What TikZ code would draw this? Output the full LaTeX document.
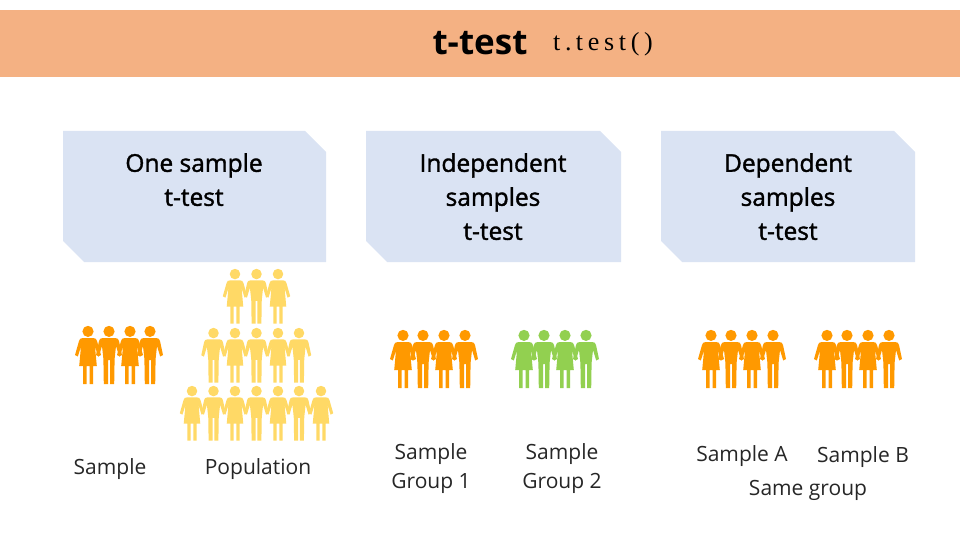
\documentclass[tikz,border=0pt]{standalone}
\usepackage{fontspec}
\setmainfont{Open Sans}
\newfontfamily\serifspaced[LetterSpace=18]{Liberation Serif}
\newcommand{\heavy}[2]{\special{pdf:code q 2 Tr #1 w}#2\special{pdf:code Q}}
\definecolor{band}{HTML}{F4B183}
\definecolor{boxblue}{HTML}{DAE3F3}
\definecolor{orangep}{HTML}{FF9900}
\definecolor{yellowp}{HTML}{FFD966}
\definecolor{greenp}{HTML}{92D050}
\newcommand{\man}[4][1]{%
\begin{scope}[shift={(#2,#3)},scale=#1,fill=#4,draw=none]
\fill (0,5.4) circle (5.6);
\fill (-6,12) -- (6,12) .. controls (8.5,12) and (9.5,13) .. (10,15)
 -- (13,29) -- (10.2,30.5) -- (7,20) -- (5.6,33) -- (5.2,58) -- (1,58) -- (1,34) -- (-1,34) -- (-1,58) -- (-5.2,58) -- (-5.6,33) -- (-7,20) -- (-10.2,30.5) -- (-13,29) -- (-10,15) .. controls (-9.5,13) and (-8.5,12) .. (-6,12) -- cycle;
\end{scope}}
\newcommand{\woman}[4][1]{%
\begin{scope}[shift={(#2,#3)},scale=#1,fill=#4,draw=none]
\fill (0,5.4) circle (5.6);
\fill (-5,12) -- (5,12) .. controls (7.5,12) and (8.5,13) .. (9,15)
 -- (13,29) -- (10.2,30.5) -- (7,20.5) -- (8.8,40) -- (5,40) -- (5,58) -- (1.5,58) -- (1.5,40) -- (-1.5,40) -- (-1.5,58) -- (-5,58) -- (-5,40) -- (-8.8,40) -- (-7,20.5) -- (-10.2,30.5) -- (-13,29) -- (-9,15) .. controls (-8.5,13) and (-7.5,12) .. (-5,12) -- cycle;
\end{scope}}
\tikzset{
 boxshape/.style={fill=boxblue,draw=none},
 boxtext/.style={align=center,font=\fontsize{24.5}{34}\selectfont,text=black,inner sep=0pt,anchor=north},
 lbl/.style={align=center,font=\fontsize{21}{29}\selectfont,text=black!85,inner sep=0pt}
}
\begin{document}
\begin{tikzpicture}[x=1pt,y=-1pt]
\useasboundingbox (0,0) rectangle (960,540);
\fill[band] (0,10) rectangle (960,77);
\node[inner sep=0pt,font=\fontsize{35}{40}\selectfont\bfseries] (title) at (480,43) {t-test};
\node[inner sep=0pt,font=\fontsize{26}{28}\selectfont\serifspaced] (func) at (603,44) {t.\,test()};
\fill[boxshape] (63,131) -- (305,131) -- (326,152) -- (326,262) -- (84,262) -- (63,241) -- cycle;
\fill[boxshape] (366,131) -- (600,131) -- (621,152) -- (621,262) -- (387,262) -- (366,241) -- cycle;
\fill[boxshape] (661,131) -- (894,131) -- (915,152) -- (915,262) -- (682,262) -- (661,241) -- cycle;
\node[boxtext] (one) at (194,153) {\heavy{0.35}{One sample}\\\heavy{0.35}{t-test}};
\node[boxtext] (ind) at (493,153) {\heavy{0.35}{Independent}\\\heavy{0.35}{samples}\\\heavy{0.35}{t-test}};
\node[boxtext] (dep) at (788,153) {\heavy{0.35}{Dependent}\\\heavy{0.35}{samples}\\\heavy{0.35}{t-test}};
% sample
\man{109}{326}{orangep}\man{150}{326}{orangep}\woman{88}{326}{orangep}\woman{130}{326}{orangep}
% population
\def\s{0.94}
\man[\s]{256.5}{269}{yellowp}\woman[\s]{235}{269}{yellowp}\woman[\s]{278}{269}{yellowp}
\man[\s]{213.5}{328}{yellowp}\man[\s]{256.5}{328}{yellowp}\man[\s]{299}{328}{yellowp}\woman[\s]{235}{328}{yellowp}\woman[\s]{278}{328}{yellowp}
\man[\s]{213.5}{386}{yellowp}\man[\s]{256.5}{386}{yellowp}\man[\s]{299}{386}{yellowp}\woman[\s]{192}{386}{yellowp}\woman[\s]{235}{386}{yellowp}\woman[\s]{278}{386}{yellowp}\woman[\s]{321}{386}{yellowp}
% independent
\man{423}{330}{orangep}\man{465}{330}{orangep}\woman{403}{330}{orangep}\woman{444}{330}{orangep}
\man{544}{330}{greenp}\man{586}{330}{greenp}\woman{524}{330}{greenp}\woman{565}{330}{greenp}
% dependent
\man{731}{330}{orangep}\man{773}{330}{orangep}\woman{711}{330}{orangep}\woman{752}{330}{orangep}
\man{847}{330}{orangep}\man{889}{330}{orangep}\woman{827}{330}{orangep}\woman{868}{330}{orangep}
\node[lbl] (sample) at (110,469) {Sample};
\node[lbl] (pop) at (258,469) {Population};
\node[lbl] (g1) at (431,469) {Sample\\Group 1};
\node[lbl] (g2) at (562,469) {Sample\\Group 2};
\node[lbl] (sa) at (742,456) {Sample A};
\node[lbl] (sb) at (863,457) {Sample B};
\node[lbl] (same) at (808,490) {Same group};
\end{tikzpicture}
\end{document}
